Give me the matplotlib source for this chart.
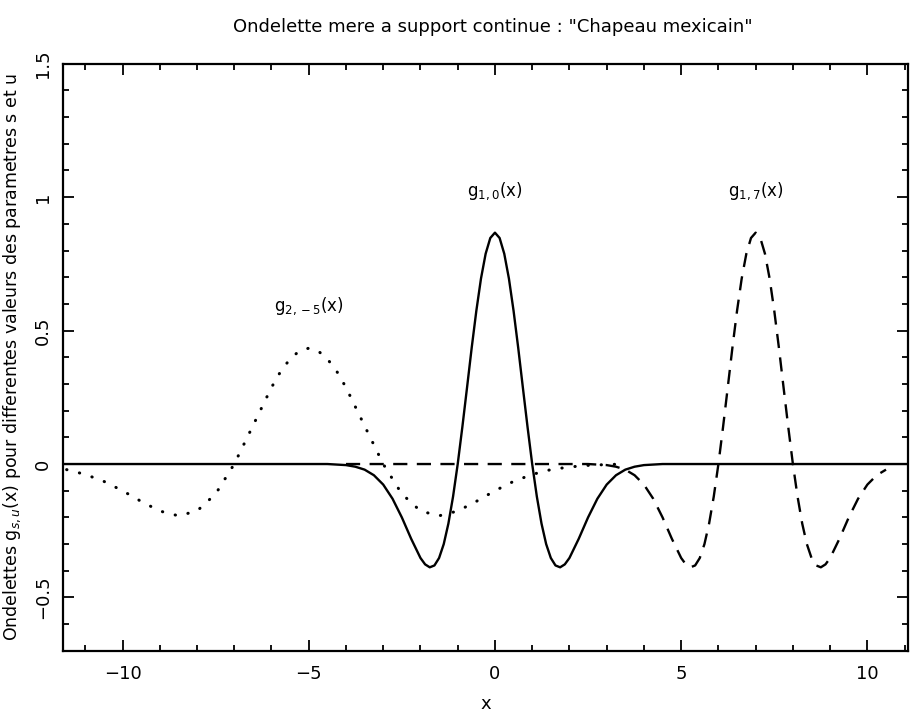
import matplotlib
matplotlib.use("Agg")
import matplotlib.pyplot as plt
from matplotlib.ticker import MultipleLocator, FuncFormatter

# g_{1,0}(x) : trait plein
x_solid = [-11.6, -4.5, -4, -3.75, -3.5, -3.25, -3, -2.75, -2.5, -2.25,
           -2, -1.875, -1.75, -1.625, -1.5, -1.375, -1.25, -1.125,
           -1, -0.875, -0.75, -0.625, -0.5, -0.375, -0.25, -0.125,
           0, 0.125, 0.25, 0.375, 0.5, 0.625, 0.75, 0.875,
           1, 1.125, 1.25, 1.375, 1.5, 1.625, 1.75, 1.875,
           2, 2.25, 2.5, 2.75, 3, 3.25, 3.5, 3.75, 4, 4.5, 11.1]
y_solid = [0.0, 0.0, -0.004, -0.010, -0.021, -0.042, -0.077, -0.130, -0.200, -0.280,
           -0.352, -0.376, -0.387, -0.380, -0.352, -0.300, -0.223, -0.122,
           0.0, 0.139, 0.286, 0.435, 0.574, 0.695, 0.788, 0.847,
           0.867, 0.847, 0.788, 0.695, 0.574, 0.435, 0.286, 0.139,
           0.0, -0.122, -0.223, -0.300, -0.352, -0.380, -0.387, -0.376,
           -0.352, -0.280, -0.200, -0.130, -0.077, -0.042, -0.021, -0.010, -0.004, 0.0, 0.0]

# g_{1,7}(x) : tirets
x_dash = [-4, 2.5, 3, 3.25, 3.5, 3.75, 4, 4.25, 4.5, 4.75,
          5, 5.125, 5.25, 5.375, 5.5, 5.625, 5.75, 5.875,
          6, 6.125, 6.25, 6.375, 6.5, 6.625, 6.75, 6.875,
          7, 7.125, 7.25, 7.375, 7.5, 7.625, 7.75, 7.875,
          8, 8.125, 8.25, 8.375, 8.5, 8.625, 8.75, 8.875,
          9, 9.25, 9.5, 9.75, 10, 10.25, 10.5]
y_dash = [0.0, 0.0, -0.004, -0.010, -0.021, -0.042, -0.077, -0.130, -0.200, -0.280,
          -0.352, -0.376, -0.387, -0.380, -0.352, -0.300, -0.223, -0.122,
          0.0, 0.139, 0.286, 0.435, 0.574, 0.695, 0.788, 0.847,
          0.867, 0.847, 0.788, 0.695, 0.574, 0.435, 0.286, 0.139,
          0.0, -0.122, -0.223, -0.300, -0.352, -0.380, -0.387, -0.376,
          -0.352, -0.280, -0.200, -0.130, -0.077, -0.042, -0.021]

# g_{2,-5}(x) : pointilles
x_dot = [-11.5, -11, -10.5, -10, -9.5, -9, -8.5, -8, -7.5, -7, -6.5, -6,
         -5.75, -5.5, -5.25, -5, -4.75, -4.5, -4.25, -4, -3.5, -3,
         -2.5, -2, -1.5, -1, -0.5, 0, 0.5, 1, 1.5, 2, 2.5, 3, 3.5]
y_dot = [-0.021, -0.039, -0.065, -0.100, -0.140, -0.176, -0.194, -0.176, -0.112, 0.0, 0.143, 0.287,
         0.348, 0.394, 0.424, 0.434, 0.424, 0.394, 0.348, 0.287, 0.143, 0.0,
         -0.112, -0.176, -0.194, -0.176, -0.140, -0.100, -0.065, -0.039, -0.021, -0.011, -0.005, -0.002, 0.0]

labels = [r"g$_{2,-5}$(x)", r"g$_{1,0}$(x)", r"g$_{1,7}$(x)"]
label_pos = [(-5.0, 0.55), (0.0, 0.98), (7.0, 0.98)]

fig = plt.figure(figsize=(9.12, 7.16), dpi=100)
ax = fig.add_axes([0.069, 0.091, 0.927, 0.82])

ax.plot(x_solid, y_solid, color="black", lw=1.7)
ax.plot(x_dash, y_dash, color="black", lw=1.7, linestyle=(0, (6, 4)))
ax.plot(x_dot, y_dot, color="black", lw=2.2, linestyle=(0, (0.1, 4.2)),
        dash_capstyle="round")

for txt, (lx, ly) in zip(labels, label_pos):
    ax.text(lx, ly, txt, ha="center", va="bottom", fontsize=12)

fmt = FuncFormatter(lambda v, p: f"{v:g}".replace("-", "\u2212"))
ax.set_xlim(-11.6, 11.1)
ax.set_ylim(-0.7, 1.5)
ax.xaxis.set_major_locator(MultipleLocator(5))
ax.xaxis.set_minor_locator(MultipleLocator(1))
ax.yaxis.set_major_locator(MultipleLocator(0.5))
ax.yaxis.set_minor_locator(MultipleLocator(0.1))
ax.xaxis.set_major_formatter(fmt)
ax.yaxis.set_major_formatter(fmt)
ax.tick_params(which="both", direction="in", top=True, right=True, width=1.3,
               labelsize=13)
ax.tick_params(which="major", length=8)
ax.tick_params(axis="x", which="major", pad=10)
ax.tick_params(axis="y", which="major", pad=8)
ax.tick_params(which="minor", length=4)
for lab in ax.get_yticklabels():
    lab.set_rotation(90)
    lab.set_va("center")
for s in ax.spines.values():
    s.set_linewidth(1.6)

ax.set_xlabel("x", fontsize=13, labelpad=9)
ax.set_ylabel(r"Ondelettes g$_{s,u}$(x) pour differentes valeurs des parametres s et u",
              fontsize=12.5, labelpad=8)
fig.text(0.54, 0.962, 'Ondelette mere a support continue : "Chapeau mexicain"',
         ha="center", va="center", fontsize=13)

fig.savefig("out.png", dpi=100)
